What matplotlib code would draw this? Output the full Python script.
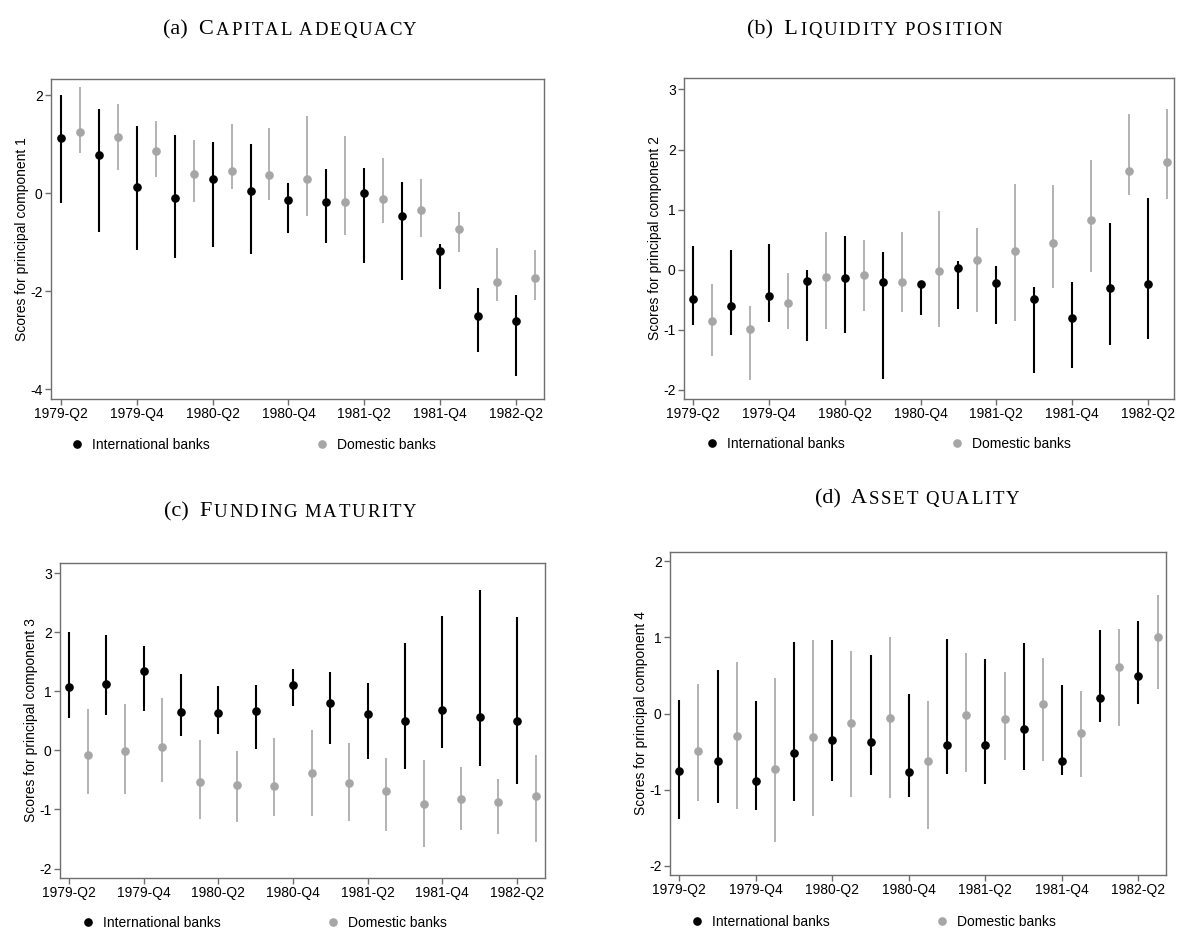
import matplotlib
matplotlib.use('Agg')
import numpy as np
import matplotlib.pyplot as plt
from matplotlib.lines import Line2D
from matplotlib.offsetbox import TextArea, HPacker, AnnotationBbox

plt.rcParams['font.family'] = ['Liberation Sans', 'DejaVu Sans']
plt.rcParams['axes.unicode_minus'] = False

quarters = ['1979-Q2', '1979-Q3', '1979-Q4', '1980-Q1', '1980-Q2', '1980-Q3', '1980-Q4',
            '1981-Q1', '1981-Q2', '1981-Q3', '1981-Q4', '1982-Q1', '1982-Q2']
tick_labels = quarters[::2]
legend_labels = ['International banks', 'Domestic banks']

# (a) capital adequacy
cap_intl = [1.12, 0.78, 0.13, -0.09, 0.29, 0.05, -0.14, -0.17, 0.00, -0.46, -1.17, -2.50, -2.61]
cap_intl_hi = [2.01, 1.72, 1.38, 1.18, 1.05, 1.01, 0.20, 0.50, 0.52, 0.23, -1.03, -1.94, -2.07]
cap_intl_lo = [-0.21, -0.79, -1.16, -1.33, -1.09, -1.24, -0.82, -1.01, -1.42, -1.78, -1.95, -3.24, -3.73]
cap_dom = [1.25, 1.15, 0.86, 0.39, 0.46, 0.38, 0.29, -0.18, -0.11, -0.34, -0.74, -1.81, -1.73]
cap_dom_hi = [2.17, 1.83, 1.48, 1.08, 1.42, 1.32, 1.57, 1.17, 0.72, 0.28, -0.39, -1.12, -1.15]
cap_dom_lo = [0.81, 0.47, 0.33, -0.18, 0.08, -0.14, -0.46, -0.86, -0.60, -0.90, -1.20, -2.21, -2.18]

# (b) liquidity position
liq_intl = [-0.49, -0.61, -0.44, -0.18, -0.14, -0.20, -0.24, 0.03, -0.22, -0.49, -0.80, -0.30, -0.23]
liq_intl_hi = [0.40, 0.33, 0.43, 0.00, 0.56, 0.30, -0.20, 0.15, 0.06, -0.29, -0.20, 0.77, 1.20]
liq_intl_lo = [-0.92, -1.09, -0.87, -1.18, -1.05, -1.81, -0.76, -0.66, -0.90, -1.72, -1.63, -1.26, -1.15]
liq_dom = [-0.86, -0.99, -0.56, -0.12, -0.09, -0.20, -0.02, 0.16, 0.31, 0.45, 0.83, 1.65, 1.79]
liq_dom_hi = [-0.24, -0.61, -0.06, 0.62, 0.49, 0.63, 0.97, 0.70, 1.43, 1.41, 1.83, 2.59, 2.67]
liq_dom_lo = [-1.43, -1.83, -0.98, -0.99, -0.69, -0.71, -0.96, -0.70, -0.85, -0.30, -0.03, 1.24, 1.17]

# (c) funding maturity
fund_intl = [1.08, 1.13, 1.35, 0.65, 0.63, 0.67, 1.10, 0.80, 0.62, 0.49, 0.68, 0.56, 0.50]
fund_intl_hi = [2.00, 1.96, 1.76, 1.29, 1.09, 1.11, 1.37, 1.32, 1.14, 1.82, 2.27, 2.72, 2.25]
fund_intl_lo = [0.55, 0.59, 0.67, 0.24, 0.28, 0.03, 0.75, 0.11, -0.14, -0.32, 0.04, -0.26, -0.57]
fund_dom = [-0.08, -0.01, 0.06, -0.53, -0.58, -0.60, -0.39, -0.55, -0.68, -0.90, -0.82, -0.87, -0.77]
fund_dom_hi = [0.70, 0.79, 0.88, 0.17, -0.01, 0.21, 0.35, 0.12, -0.13, -0.17, -0.29, -0.49, -0.08]
fund_dom_lo = [-0.74, -0.74, -0.53, -1.16, -1.22, -1.11, -1.11, -1.20, -1.36, -1.64, -1.35, -1.42, -1.55]

# (d) asset quality
asset_intl = [-0.75, -0.62, -0.88, -0.52, -0.35, -0.37, -0.77, -0.42, -0.42, -0.20, -0.62, 0.20, 0.49]
asset_intl_hi = [0.18, 0.57, 0.16, 0.94, 0.97, 0.77, 0.26, 0.98, 0.71, 0.92, 0.37, 1.09, 1.22]
asset_intl_lo = [-1.39, -1.18, -1.27, -1.15, -0.88, -0.81, -1.09, -0.79, -0.92, -0.74, -0.81, -0.11, 0.12]
asset_dom = [-0.49, -0.30, -0.73, -0.31, -0.12, -0.06, -0.62, -0.02, -0.07, 0.12, -0.25, 0.61, 1.00]
asset_dom_hi = [0.39, 0.67, 0.46, 0.97, 0.82, 1.01, 0.16, 0.80, 0.55, 0.73, 0.30, 1.11, 1.55]
asset_dom_lo = [-1.15, -1.26, -1.69, -1.34, -1.10, -1.11, -1.51, -0.77, -0.61, -0.63, -0.83, -0.17, 0.32]

W, H = 1177, 930
GREY = '#a6a6a6'
FRAME = '#6e6e6e'

fig = plt.figure(figsize=(W / 100, H / 100), dpi=100)
fig.patch.set_facecolor('white')


def title(paren, first, rest, x, y):
    # fake small caps: big initial, smaller spaced capitals
    serif = 'Liberation Serif'
    big = TextArea(paren + '  ' + first, textprops=dict(fontsize=16, family=serif))
    letters = [TextArea(ch if ch != ' ' else '\u2009', textprops=dict(fontsize=13.5, family=serif))
               for ch in rest]
    small = HPacker(children=letters, align='baseline', pad=0, sep=1.3)
    box = HPacker(children=[big, small], align='baseline', pad=0, sep=1.3)
    ab = AnnotationBbox(box, (x / W, 1 - y / H), xycoords='figure fraction',
                        frameon=False, box_alignment=(0.5, 0.5))
    fig.add_artist(ab)


def panel(rect, xlim, ylim, yticks, ylabel, intl, intl_lo, intl_hi, dom, dom_lo, dom_hi, leg_xy):
    l, t, r, b = rect
    ax = fig.add_axes([l / W, 1 - b / H, (r - l) / W, (b - t) / H])
    x = np.arange(len(quarters))
    intl, intl_lo, intl_hi = map(np.array, (intl, intl_lo, intl_hi))
    dom, dom_lo, dom_hi = map(np.array, (dom, dom_lo, dom_hi))
    ax.errorbar(x, intl, yerr=[intl - intl_lo, intl_hi - intl], fmt='o', color='black',
                ms=5.2, elinewidth=1.5, capsize=0, zorder=3)
    ax.errorbar(x + 0.5, dom, yerr=[dom - dom_lo, dom_hi - dom], fmt='o', color=GREY,
                ms=5.2, elinewidth=1.2, capsize=0, zorder=2)
    ax.set_xlim(*xlim)
    ax.set_ylim(*ylim)
    ax.set_xticks(x[::2])
    ax.set_xticklabels(tick_labels)
    ax.set_yticks(yticks)
    ax.set_ylabel(ylabel, fontsize=10, labelpad=1)
    for s in ax.spines.values():
        s.set_color(FRAME)
        s.set_linewidth(1)
    ax.tick_params(direction='out', length=4, width=1, color=FRAME, labelsize=10, pad=2)
    handles = [Line2D([], [], marker='o', ls='none', color='black', ms=5.2),
               Line2D([], [], marker='o', ls='none', color=GREY, ms=5.2)]
    lx, ly = leg_xy
    fig.legend(handles, legend_labels, loc='center left',
               bbox_to_anchor=((lx - 5.6) / W, 1 - ly / H), bbox_transform=fig.transFigure,
               ncol=2, frameon=False, borderpad=0, borderaxespad=0, handlelength=0.8,
               handletextpad=0.68, columnspacing=7.7, fontsize=10)
    return ax


panel((51, 79, 544, 399), (-0.255, 12.73), (-4.2, 2.33), [-4, -2, 0, 2],
      'Scores for principal component 1',
      cap_intl, cap_intl_lo, cap_intl_hi, cap_dom, cap_dom_lo, cap_dom_hi, (77, 445))
panel((684, 78, 1174, 399), (-0.243, 12.69), (-2.15, 3.19), [-2, -1, 0, 1, 2, 3],
      'Scores for principal component 2',
      liq_intl, liq_intl_lo, liq_intl_hi, liq_dom, liq_dom_lo, liq_dom_hi, (712, 444))
panel((60, 563, 545, 878), (-0.238, 12.75), (-2.16, 3.17), [-2, -1, 0, 1, 2, 3],
      'Scores for principal component 3',
      fund_intl, fund_intl_lo, fund_intl_hi, fund_dom, fund_dom_lo, fund_dom_hi, (88, 923))
panel((670, 552, 1166, 875), (-0.243, 12.72), (-2.12, 2.12), [-2, -1, 0, 1, 2],
      'Scores for principal component 4',
      asset_intl, asset_intl_lo, asset_intl_hi, asset_dom, asset_dom_lo, asset_dom_hi, (697, 922))

title('(a)', 'C', 'APITAL ADEQUACY', 290, 30)
title('(b)', 'L', 'IQUIDITY POSITION', 875, 30)
title('(c)', 'F', 'UNDING MATURITY', 290, 512)
title('(d)', 'A', 'SSET QUALITY', 917, 499)

fig.savefig('out.png', dpi=100)
